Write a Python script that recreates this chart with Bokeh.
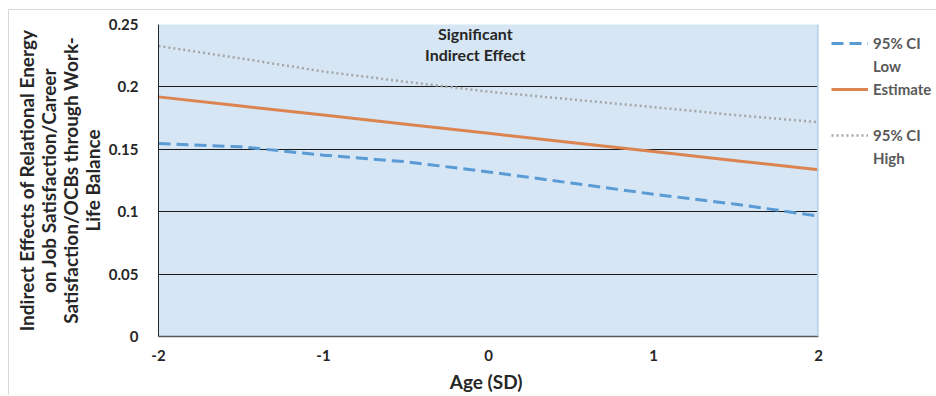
from bokeh.plotting import figure
from bokeh.models import FixedTicker, Legend, LegendItem, Label, Span
from bokeh.embed import file_html
from bokeh.resources import INLINE

age = [-2, -1.5, -1, -0.5, 0, 0.5, 1, 1.5, 2]
ci_low = [0.1546, 0.152, 0.1453, 0.140, 0.1319, 0.123, 0.1140, 0.1060, 0.0965]
estimate = [0.1920, 0.1847, 0.1774, 0.1701, 0.1628, 0.1555, 0.1482, 0.1409, 0.1336]
ci_high = [0.2327, 0.2228, 0.2123, 0.2041, 0.1962, 0.1900, 0.1838, 0.1774, 0.1717]
y_ticks = [0, 0.05, 0.1, 0.15, 0.2, 0.25]
y_tick_labels = ["0", "0.05", "0.1", "0.15", "0.2", "0.25"]
x_ticks = [-2, -1, 0, 1, 2]
x_tick_labels = ["-2", "-1", "0", "1", "2"]

FONT = "Lato"
BORDER = "#d9d9d9"

p = figure(frame_width=660, frame_height=312, output_backend="svg", toolbar_location=None,
           x_range=(-2, 2), y_range=(0, 0.25),
           min_border_left=158, min_border_right=112, min_border_top=24, min_border_bottom=44,
           styles={"background": f"linear-gradient({BORDER},{BORDER}) 8px 9px / 100% 1px no-repeat, "
                                 f"linear-gradient({BORDER},{BORDER}) 8px 9px / 1px 100% no-repeat"})
p.background_fill_color = "#D6E6F4"
p.border_fill_alpha = 0
p.outline_line_color = None

p.yaxis.ticker = FixedTicker(ticks=y_ticks)
p.yaxis.major_label_overrides = {t: l for t, l in zip(y_ticks, y_tick_labels)}
p.xaxis.ticker = FixedTicker(ticks=x_ticks)
p.xaxis.major_label_overrides = {t: l for t, l in zip(x_ticks, x_tick_labels)}
for ax in (p.xaxis, p.yaxis):
    ax.major_tick_line_color = None
    ax.minor_tick_line_color = None
    ax.major_label_text_font = FONT
    ax.major_label_text_font_style = "bold"
    ax.major_label_text_font_size = "15px"
    ax.major_label_text_color = "#262626"
    ax.axis_label_text_font = FONT
    ax.axis_label_text_font_style = "bold"
    ax.axis_label_text_font_size = "19px"
    ax.axis_label_text_color = "#262626"
p.yaxis.axis_line_color = "#262626"
p.xaxis.axis_line_color = "#595959"
p.xaxis.axis_line_width = 1.5
p.xaxis.major_label_standoff = 7
p.yaxis.major_label_standoff = 14
p.xaxis.axis_label = "Age  (SD)"
p.xaxis.axis_label_standoff = 6
p.yaxis.axis_label = "Indirect Effects of Relational Energy\non Job Satisfaction/Career\nSatisfaction/OCBs through Work-\nLife Balance"
p.yaxis.axis_label_text_line_height = 0.95
p.yaxis.axis_label_standoff = 2

p.xgrid.grid_line_color = None
p.ygrid.ticker = FixedTicker(ticks=y_ticks[1:])
p.ygrid.grid_line_color = "#1a1a1a"
p.ygrid.grid_line_width = 1

p.add_layout(Span(location=2, dimension="height", line_color="#B4D0EC", line_width=3))

r_low = p.line(age, ci_low, line_color="#5B9BD5", line_width=3, line_dash="12 6")
r_est = p.line(age, estimate, line_color="#DB8450", line_width=3)
r_high = p.line(age, ci_high, line_color="#A5A5A5", line_width=2.5, line_dash="2 3")

for yv, txt in ((0.2425, "Significant"), (0.2263, "Indirect Effect")):
    p.add_layout(Label(x=-0.08, y=yv, text=txt, text_align="center", text_baseline="middle",
                       text_font=FONT, text_font_style="bold", text_font_size="16px",
                       text_color="#262626"))

lg = Legend(items=[LegendItem(label="95% CI", renderers=[r_low]),
                   LegendItem(label="Low", renderers=[]),
                   LegendItem(label="Estimate", renderers=[r_est]),
                   LegendItem(label=" ", renderers=[]),
                   LegendItem(label="95% CI", renderers=[r_high]),
                   LegendItem(label="High", renderers=[])],
            location=(13, 168),
            border_line_color=None, background_fill_alpha=0,
            label_text_font=FONT, label_text_font_style="bold", label_text_font_size="15px",
            label_text_color="#595959", glyph_width=37, glyph_height=20, label_height=20,
            margin=0, padding=0, spacing=3, label_standoff=5)
p.add_layout(lg, "right")

open("out.html", "w").write(file_html(p, INLINE))
